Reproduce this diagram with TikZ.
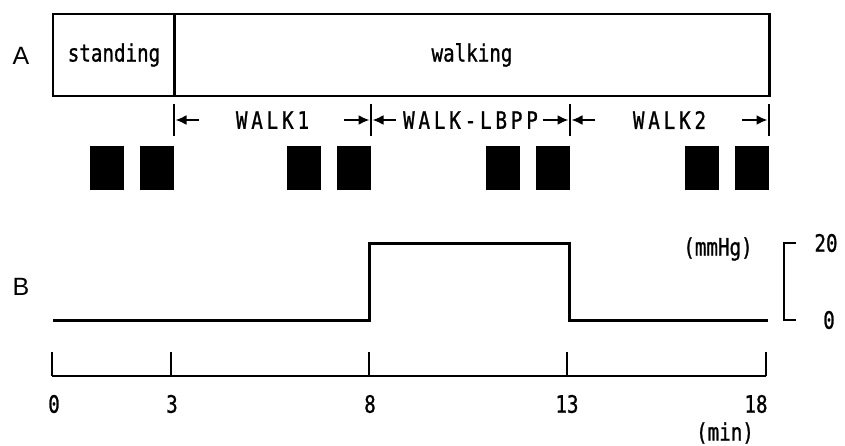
\documentclass[tikz,border=0pt]{standalone}
\usepackage{fontspec}
\setmainfont{DejaVu Sans Mono}[FakeStretch=0.8,FakeBold=1]
\newfontfamily\walkfont{DejaVu Sans Mono}[FakeStretch=0.8,FakeBold=1,LetterSpace=16]
\newfontfamily\panelfont{Liberation Sans}
\usetikzlibrary{arrows.meta,calc,positioning}

\begin{document}
\begin{tikzpicture}[x=1pt,y=-1pt]
    \tikzset{
        phase/.style = {rectangle, draw, line width=2.8pt, minimum height=82pt, inner sep=0pt, font=\fontsize{24}{24}\selectfont},
        block/.style = {rectangle, fill=black, minimum width=34pt, minimum height=44pt, inner sep=0pt},
        walk/.style = {font=\walkfont\fontsize{24}{24}\selectfont, inner sep=0pt},
        tick/.style = {font=\fontsize{24}{24}\selectfont, inner sep=0pt},
        panel/.style = {font=\panelfont\fontsize{25}{25}\selectfont, inner sep=0pt},
        bar/.style = {line width=2.8pt},
        dim/.style = {draw, line width=2pt, -{Latex[length=11pt,width=10pt]}},
        trace/.style = {line width=3pt}
    }
    \useasboundingbox (0,0) rectangle (845,445);

    \node[panel](lab_a) at (21,56){A};
    \node[panel](lab_b) at (21,287){B};

    \node[phase, minimum width=122pt](standing) at (114,55){standing};
    \node[phase, minimum width=595pt](walking) at (472,55){walking};

    \foreach \i/\x in {0/174, 1/371, 2/570, 3/769} {
        \coordinate (b_\i) at (\x,120);
        \draw[bar] (\x,104) -- (\x,136);
        \node[block](sq_l\i) at (\x-67,168){};
        \node[block](sq_r\i) at (\x-17,168){};
    }

    \node[walk](walk_1) at ($(b_0)!0.5!(b_1)$){WALK1};
    \node[walk](walk_2) at ($(b_1)!0.5!(b_2)$){WALK-LBPP};
    \node[walk](walk_3) at ($(b_2)!0.5!(b_3)$){WALK2};

    \foreach \i/\j in {0/1, 1/2, 2/3} {
        \path [dim] ($(b_\i)+(25,0)$) -- ($(b_\i)+(1.5,0)$);
        \path [dim] ($(b_\j)+(-27,0)$) -- ($(b_\j)+(-1.5,0)$);
    }

    \coordinate (p_0) at (53,320);
    \coordinate (p_1) at (369,320);
    \coordinate (p_2) at (369,243);
    \coordinate (p_3) at (569,243);
    \coordinate (p_4) at (569,320);
    \coordinate (p_5) at (768,320);
    \draw[trace] (p_0) -- (p_1) -- (p_2) -- (p_3) -- (p_4) -- (p_5);

    \node[tick](mmhg) at (718,249){(mmHg)};
    \node[tick](s_20) at (826,243){20};
    \node[tick](s_0) at (829,320){0};
    \draw[bar] (796,243) -- (784,243) -- (784,320) -- (796,320);

    \draw[bar] (52,376) -- (766,376);
    \foreach \t/\x/\lx in {0/52/54, 3/171/172, 8/369/370, 13/567/567, 18/766/756} {
        \draw[bar] (\x,352) -- (\x,376);
        \node[tick](t_\t) at (\lx,404){\t};
    }
    \node[tick](unit) at (725,433){(min)};

\end{tikzpicture}
\end{document}
